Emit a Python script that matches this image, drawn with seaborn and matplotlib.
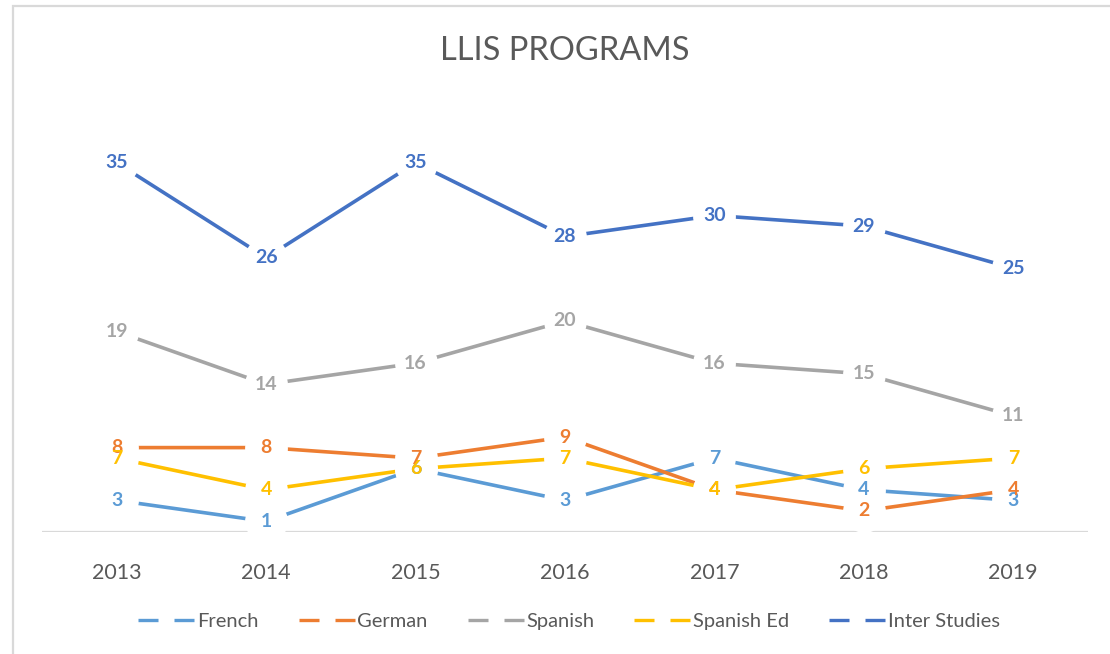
import pandas as pd
import numpy as np
import seaborn as sns
import matplotlib.pyplot as plt
from matplotlib.lines import Line2D
from matplotlib.patches import Rectangle

# chart values
years = ["2013", "2014", "2015", "2016", "2017", "2018", "2019"]
french = [3, 1, 6, 3, 7, 4, 3]
german = [8, 8, 7, 9, 4, 2, 4]
spanish = [19, 14, 16, 20, 16, 15, 11]
spanish_ed = [7, 4, 6, 7, 4, 6, 7]
inter_studies = [35, 26, 35, 28, 30, 29, 25]

programs = ["French", "German", "Spanish", "Spanish Ed", "Inter Studies"]
colors = ["#5B9BD5", "#ED7D31", "#A5A5A5", "#FFC000", "#4472C4"]
series = [french, german, spanish, spanish_ed, inter_studies]

# long format frame for seaborn
rows = []
for name, vals in zip(programs, series):
    for i, v in enumerate(vals):
        rows.append({"Program": name, "idx": i, "Year": years[i], "Count": v})
df = pd.DataFrame(rows)

sns.set_style("white")
plt.rcParams['font.family'] = ['Lato', 'DejaVu Sans']

fig = plt.figure(figsize=(11.1, 6.54), dpi=100)
ax = fig.add_axes([42 / 1110, 1 - 532 / 654, (1088 - 42) / 1110, (532 - 110) / 654])

sns.lineplot(data=df, x="idx", y="Count", hue="Program", hue_order=programs,
             palette=colors, linewidth=2.6, legend=False, ax=ax, zorder=2)

# white discs under the labels break the lines like the original
sns.scatterplot(data=df, x="idx", y="Count", color="white", s=950,
                linewidth=0, legend=False, ax=ax, zorder=3, clip_on=False)

for name, col in zip(programs, colors):
    sub = df[df["Program"] == name]
    for _, r in sub.iterrows():
        ax.text(r["idx"], r["Count"], str(r["Count"]), color=col,
                fontsize=14, fontweight="bold", ha="center", va="center",
                zorder=4)

ax.axhline(0, color="#D9D9D9", linewidth=1.6, zorder=1)
ax.set_xlim(-0.5, 6.5)
ax.set_ylim(0, 40)
ax.set_xticks(range(len(years)))
ax.set_xticklabels(years, fontsize=15.5, color="#595959")
ax.tick_params(axis="x", length=0, pad=22)
ax.set_yticks([])
ax.set_xlabel("")
ax.set_ylabel("")
for s in ax.spines.values():
    s.set_visible(False)

fig.text(565 / 1110, 1 - 51 / 654, "LLIS PROGRAMS", fontsize=23.5,
         fontweight="normal", color="#595959", ha="center", va="center")

# chart frame, runs off the right and bottom edge as in the reference
fig.patches.append(Rectangle((13 / 1110, -0.1), 1.2, 1 - 6 / 654 + 0.1,
                             transform=fig.transFigure, fill=False,
                             edgecolor="#D9D9D9", linewidth=1.6))

handles = [Line2D([0], [0], color=c, linewidth=2.4, dashes=(6.0, 4.8))
           for c in colors]
fig.legend(handles, programs, loc="center", ncol=5,
           bbox_to_anchor=(569 / 1110, 1 - 621 / 654), frameon=False,
           fontsize=14.5, labelcolor="#595959", handlelength=2.8,
           handletextpad=0.1, columnspacing=2.0)

fig.savefig("out.png", dpi=100)
